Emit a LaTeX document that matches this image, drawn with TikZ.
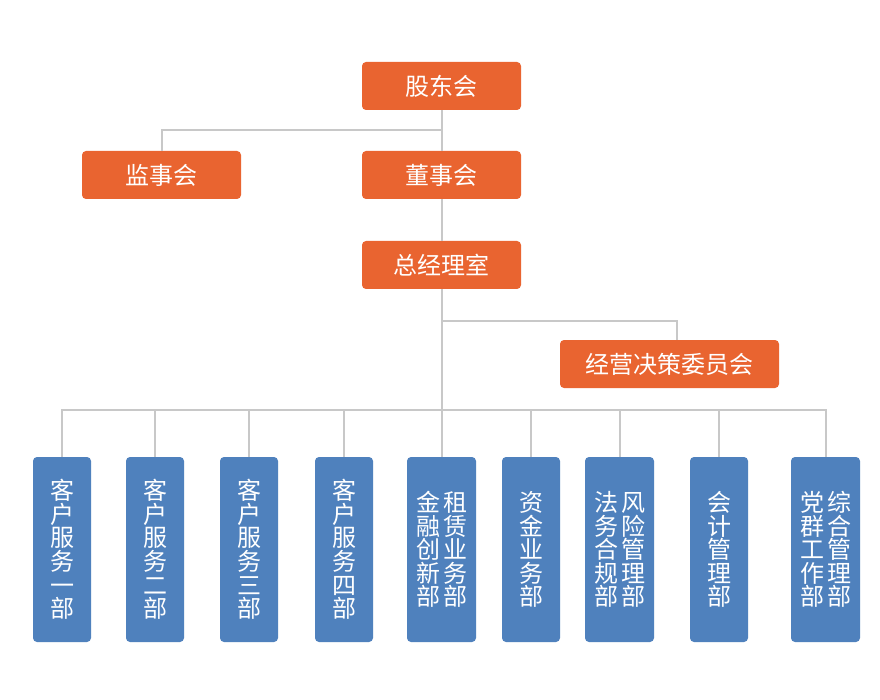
\documentclass[tikz,border=0pt]{standalone}
\usepackage{fontspec}
\newfontfamily\cjk{Noto Sans CJK SC}
\definecolor{orgbox}{RGB}{233,100,48}
\definecolor{bluebox}{RGB}{79,129,189}
\definecolor{lnk}{RGB}{200,200,200}
\newcommand{\vcol}[1]{\vbox{\baselineskip=23.6pt\lineskiplimit=-30pt\lineskip=0pt\let\\\cr\halign{\hfil##\hfil\cr#1\crcr}}}
\tikzset{
  topbox/.style={fill=orgbox, rounded corners=4pt, minimum height=48pt, inner sep=0pt,
    text=white, font=\cjk\fontsize{24}{24}\selectfont},
  deptbox/.style={fill=bluebox, rounded corners=4pt, minimum height=185pt, inner sep=0pt,
    text=white, font=\cjk\fontsize{24}{24}\selectfont},
  narrow/.style={deptbox, minimum width=58pt},
  wide/.style={deptbox, minimum width=69pt},
  link/.style={draw=lnk, line width=2pt}
}
\begin{document}
\begin{tikzpicture}[x=1pt,y=-1pt]
\fill[white] (0,0) rectangle (880,700);
\path[use as bounding box] (0,0) rectangle (880,700);

% top boxes
\node[topbox, minimum width=159pt] (gd) at (441.5,86) {股东会};
\node[topbox, minimum width=159pt] (js) at (161.5,175) {监事会};
\node[topbox, minimum width=159pt] (ds) at (441.5,175) {董事会};
\node[topbox, minimum width=159pt] (zj) at (441.5,265) {总经理室};
\node[topbox, minimum width=219pt] (jy) at (669.5,364) {经营决策委员会};

% departments
\node[narrow] (d1) at (62,549.5) {\vcol{客\\户\\服\\务\\一\\部}};
\node[narrow] (d2) at (155,549.5) {\vcol{客\\户\\服\\务\\二\\部}};
\node[narrow] (d3) at (249,549.5) {\vcol{客\\户\\服\\务\\三\\部}};
\node[narrow] (d4) at (344,549.5) {\vcol{客\\户\\服\\务\\四\\部}};
\node[wide] (d5) at (441.5,549.5) {\vcol{金\\融\\创\\新\\部}\hspace{3pt}\vcol{租\\赁\\业\\务\\部}};
\node[narrow] (d6) at (531,549.5) {\vcol{资\\金\\业\\务\\部}};
\node[wide] (d7) at (619.5,549.5) {\vcol{法\\务\\合\\规\\部}\hspace{3pt}\vcol{风\\险\\管\\理\\部}};
\node[narrow] (d8) at (719,549.5) {\vcol{会\\计\\管\\理\\部}};
\node[wide] (d9) at (825.5,549.5) {\vcol{党\\群\\工\\作\\部}\hspace{3pt}\vcol{综\\合\\管\\理\\部}};

% connectors
\coordinate (b1) at (441.5,130);
\coordinate (b3) at (441.5,321);
\coordinate (bus) at (441.5,410);
\draw[link] (gd.south) -- (ds.north);
\draw[link] (js.north) |- (b1);
\draw[link] (ds.south) -- (zj.north);
\draw[link] (zj.south) -- (bus);
\draw[link] ([xshift=7.5pt]jy.north) |- (b3);
\foreach \d in {d1,d2,d3,d4,d5,d6,d7,d8,d9}{
  \draw[link] (\d.north) |- (bus);
}
\end{tikzpicture}
\end{document}
